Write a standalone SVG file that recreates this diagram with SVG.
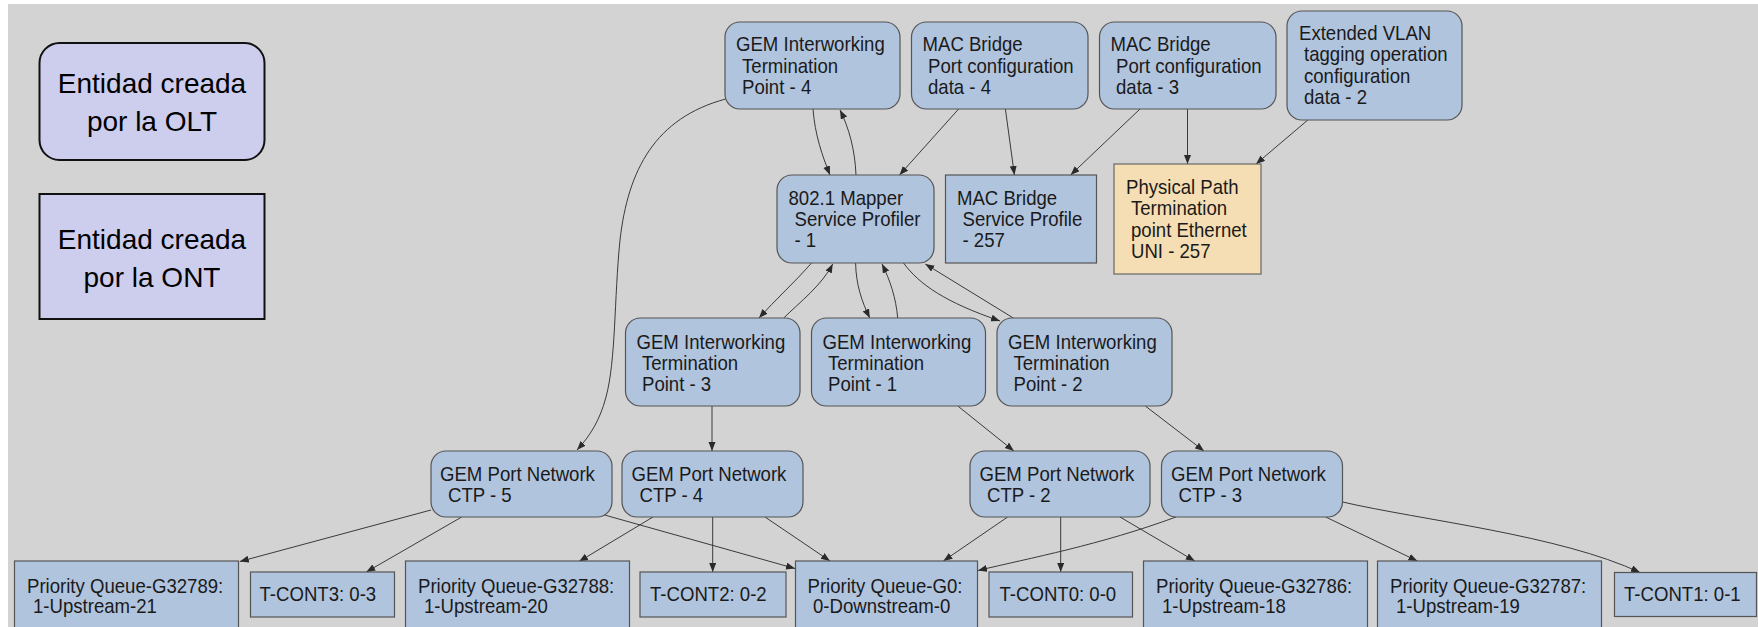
<svg xmlns="http://www.w3.org/2000/svg" width="1758" height="627" viewBox="0 0 1758 627">
<style>
.n{fill:#b0c4de;stroke:#555;stroke-width:1.2}
.w{fill:#f5deb3;stroke:#666;stroke-width:1.2}
.lg{fill:#cdcdee;stroke:#111;stroke-width:2}
.t{font-family:"Liberation Sans",Arial,sans-serif;font-size:20px;fill:#1a1a1a;transform-box:fill-box;transform-origin:0% 50%;transform:scaleX(0.93)}
.lt{font-family:"Liberation Sans",Arial,sans-serif;font-size:28px;fill:#000;text-anchor:middle}
.e{fill:none;stroke:#3a3a3a;stroke-width:1;marker-end:url(#a)}
</style>
<defs>
<marker id="a" markerWidth="10" markerHeight="8" refX="9" refY="3.5" orient="auto" markerUnits="userSpaceOnUse"><path d="M0,0 L9,3.5 L0,7 z" fill="#2a2a2a"/></marker>
</defs>
<rect x="0" y="0" width="1758" height="627" fill="#ffffff"/>
<rect x="8" y="4" width="1750" height="623" fill="#d3d3d3"/>

<g id="legend-olt"><rect class="lg" x="39.5" y="43" width="225" height="117" rx="20"/><text class="lt" x="152" y="93">Entidad creada</text><text class="lt" x="152" y="131">por la OLT</text></g>
<g id="legend-ont"><rect class="lg" x="39.5" y="194" width="225" height="125"/><text class="lt" x="152" y="249">Entidad creada</text><text class="lt" x="152" y="287">por la ONT</text></g>

<g id="connectors">
<path class="e" d="M813,109 C815,135 822,155 830,175"/>
<path class="e" d="M856,175 C855,150 849,128 840,110"/>
<path class="e" d="M958.6,109 L899.5,175"/>
<path class="e" d="M1005.4,109 L1014.4,175"/>
<path class="e" d="M1140,109 L1070.6,175"/>
<path class="e" d="M1187.5,109 L1187.5,164"/>
<path class="e" d="M1307.8,120 L1256,164"/>
<path class="e" d="M725.7,99 C655,118 628,170 620,240 C614,300 616,360 606,397 C600,420 590,436 577,450"/>
<path class="e" d="M811.6,263 C795,282 775,300 759,318"/>
<path class="e" d="M783.7,318 C800,302 822,285 832.7,264"/>
<path class="e" d="M855.6,263 C856,285 862,302 869.8,318"/>
<path class="e" d="M897.7,318 C896,298 890,280 882,264"/>
<path class="e" d="M903.5,263 C920,285 945,302 1000,321"/>
<path class="e" d="M1013.3,318 L925.3,264"/>
<path class="e" d="M712,406 L712,451"/>
<path class="e" d="M957.8,406 L1013.9,451"/>
<path class="e" d="M1145.3,406 L1204,451"/>
<path class="e" d="M431,510 L239.8,561.5"/>
<path class="e" d="M461.7,517 L366.3,572"/>
<path class="e" d="M604.6,515 L795,568.5"/>
<path class="e" d="M653,517 L579,561.5"/>
<path class="e" d="M712.7,517 L712.7,572"/>
<path class="e" d="M765,517 L830,561"/>
<path class="e" d="M1007.6,517 L943.4,561"/>
<path class="e" d="M1060.7,517 L1060.7,572"/>
<path class="e" d="M1120,517 L1194.8,561"/>
<path class="e" d="M1176,517 C1100,545 1030,558 978,570.5"/>
<path class="e" d="M1325.7,517 L1417.4,561"/>
<path class="e" d="M1342.6,502 C1420,520 1560,535 1640,572.5"/>
</g>

<g id="gem-itp-4"><rect class="n" x="725" y="22" width="175" height="87" rx="15"/><text class="t" x="736" y="51.5">GEM Interworking</text><text class="t" x="742" y="72.8">Termination</text><text class="t" x="742" y="94">Point - 4</text></g>
<g id="mac-pcd-4"><rect class="n" x="911.5" y="22" width="176.5" height="87" rx="15"/><text class="t" x="922.5" y="51.5">MAC Bridge</text><text class="t" x="928" y="72.8">Port configuration</text><text class="t" x="928" y="94">data - 4</text></g>
<g id="mac-pcd-3"><rect class="n" x="1099.5" y="22" width="176.5" height="87" rx="15"/><text class="t" x="1110.5" y="51.5">MAC Bridge</text><text class="t" x="1116" y="72.8">Port configuration</text><text class="t" x="1116" y="94">data - 3</text></g>
<g id="ext-vlan-2"><rect class="n" x="1287" y="11" width="175" height="109" rx="15"/><text class="t" x="1299" y="40">Extended VLAN</text><text class="t" x="1304" y="61.3">tagging operation</text><text class="t" x="1304" y="82.6">configuration</text><text class="t" x="1304" y="103.9">data - 2</text></g>
<g id="mapper-1"><rect class="n" x="777" y="175" width="157" height="88" rx="15"/><text class="t" x="788.5" y="205.5">802.1 Mapper</text><text class="t" x="794.5" y="226.5">Service Profiler</text><text class="t" x="794.5" y="247.5">- 1</text></g>
<g id="mac-bsp-257"><rect class="n" x="945.5" y="175" width="151" height="88"/><text class="t" x="957" y="205.5">MAC Bridge</text><text class="t" x="962.5" y="226.5">Service Profile</text><text class="t" x="962.5" y="247.5">- 257</text></g>
<g id="pptp-257"><rect class="w" x="1114" y="164" width="147" height="110"/><text class="t" x="1126" y="194">Physical Path</text><text class="t" x="1131" y="215.3">Termination</text><text class="t" x="1131" y="236.6">point Ethernet</text><text class="t" x="1131" y="257.9">UNI - 257</text></g>
<g id="gem-itp-3"><rect class="n" x="625.5" y="318" width="174.5" height="88" rx="15"/><text class="t" x="636.5" y="349.5">GEM Interworking</text><text class="t" x="642" y="370">Termination</text><text class="t" x="642" y="391">Point - 3</text></g>
<g id="gem-itp-1"><rect class="n" x="811.5" y="318" width="174" height="88" rx="15"/><text class="t" x="822.5" y="349.5">GEM Interworking</text><text class="t" x="828" y="370">Termination</text><text class="t" x="828" y="391">Point - 1</text></g>
<g id="gem-itp-2"><rect class="n" x="997" y="318" width="175" height="88" rx="15"/><text class="t" x="1008" y="349.5">GEM Interworking</text><text class="t" x="1013.5" y="370">Termination</text><text class="t" x="1013.5" y="391">Point - 2</text></g>
<g id="gem-ctp-5"><rect class="n" x="431" y="451" width="181" height="66" rx="15"/><text class="t" x="440" y="481">GEM Port Network</text><text class="t" x="448" y="502">CTP - 5</text></g>
<g id="gem-ctp-4"><rect class="n" x="622" y="451" width="181" height="66" rx="15"/><text class="t" x="631.5" y="481">GEM Port Network</text><text class="t" x="639.5" y="502">CTP - 4</text></g>
<g id="gem-ctp-2"><rect class="n" x="970" y="451" width="180" height="66" rx="15"/><text class="t" x="979.5" y="481">GEM Port Network</text><text class="t" x="987" y="502">CTP - 2</text></g>
<g id="gem-ctp-3"><rect class="n" x="1161.5" y="451" width="181" height="66" rx="15"/><text class="t" x="1171" y="481">GEM Port Network</text><text class="t" x="1178.5" y="502">CTP - 3</text></g>
<g id="pq-32789"><rect class="n" x="14.5" y="561" width="224" height="72"/><text class="t" x="27" y="593">Priority Queue-G32789:</text><text class="t" x="33" y="613">1-Upstream-21</text></g>
<g id="tcont-3"><rect class="n" x="250.5" y="572" width="144" height="45"/><text class="t" x="259.5" y="601.5">T-CONT3: 0-3</text></g>
<g id="pq-32788"><rect class="n" x="405.5" y="561" width="224" height="72"/><text class="t" x="418" y="593">Priority Queue-G32788:</text><text class="t" x="424" y="613">1-Upstream-20</text></g>
<g id="tcont-2"><rect class="n" x="640" y="572" width="146" height="45"/><text class="t" x="650" y="601.5">T-CONT2: 0-2</text></g>
<g id="pq-0"><rect class="n" x="795.5" y="561" width="182" height="72"/><text class="t" x="807.5" y="593">Priority Queue-G0:</text><text class="t" x="813" y="613">0-Downstream-0</text></g>
<g id="tcont-0"><rect class="n" x="989" y="572" width="143.5" height="45"/><text class="t" x="999.5" y="601.5">T-CONT0: 0-0</text></g>
<g id="pq-32786"><rect class="n" x="1143.5" y="561" width="224" height="72"/><text class="t" x="1156" y="593">Priority Queue-G32786:</text><text class="t" x="1162" y="613">1-Upstream-18</text></g>
<g id="pq-32787"><rect class="n" x="1377.5" y="561" width="224" height="72"/><text class="t" x="1390" y="593">Priority Queue-G32787:</text><text class="t" x="1396" y="613">1-Upstream-19</text></g>
<g id="tcont-1"><rect class="n" x="1614.5" y="572.5" width="142" height="44"/><text class="t" x="1624" y="601.5">T-CONT1: 0-1</text></g>
</svg>
